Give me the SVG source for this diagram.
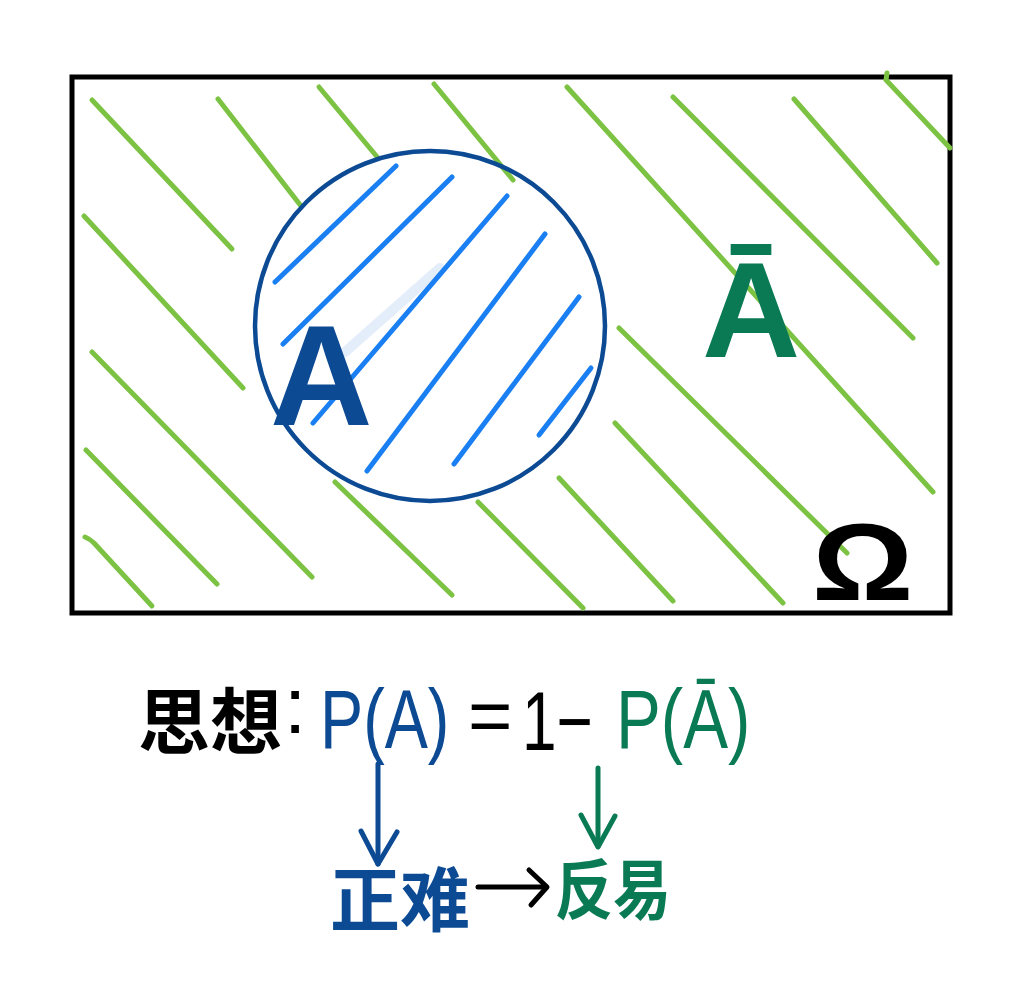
<svg xmlns="http://www.w3.org/2000/svg" width="1021" height="1000" viewBox="0 0 1021 1000">
<style>
.g{stroke:#7cc243;stroke-width:5;stroke-linecap:round;fill:none}
.b{stroke:#1a7ff2;stroke-width:5;stroke-linecap:round;fill:none}
.lat{font-family:"Liberation Sans",Arial,sans-serif}
.cjk{font-family:"Noto Sans CJK SC","Noto Sans CJK JP",sans-serif;font-weight:700}
.arr{stroke-width:5;stroke-linecap:round;stroke-linejoin:round;fill:none}
</style>
<rect width="1021" height="1000" fill="#ffffff"/>
<g id="omega-space">
<rect x="72" y="77" width="878" height="536" fill="none" stroke="#000" stroke-width="5"/>
<g id="hatch-green">
<line class="g" x1="92" y1="100" x2="232" y2="249"/>
<line class="g" x1="218" y1="99" x2="301" y2="206"/>
<line class="g" x1="319" y1="87" x2="378" y2="158"/>
<line class="g" x1="434" y1="84" x2="513" y2="180"/>
<line class="g" x1="84" y1="216" x2="243" y2="388"/>
<line class="g" x1="92" y1="352" x2="312" y2="577"/>
<line class="g" x1="86" y1="450" x2="217" y2="584"/>
<path class="g" d="M85,537 Q90,539 94,543 L152,606"/>
<line class="g" x1="335" y1="482" x2="452" y2="595"/>
<line class="g" x1="478" y1="502" x2="583" y2="608"/>
<line class="g" x1="559" y1="478" x2="673" y2="601"/>
<line class="g" x1="615" y1="423" x2="783" y2="603"/>
<line class="g" x1="619" y1="328" x2="847" y2="553"/>
<line class="g" x1="567" y1="87" x2="933" y2="492"/>
<line class="g" x1="673" y1="97" x2="913" y2="338"/>
<line class="g" x1="794" y1="99" x2="937" y2="263"/>
<path class="g" d="M887,73 L886,80 L950,148"/>
</g>
<g id="event-A">
<line x1="345" y1="352" x2="440" y2="268" stroke="#e4edfa" stroke-width="10" stroke-linecap="round"/>
<g id="hatch-blue">
<line class="b" x1="275" y1="282" x2="396" y2="166"/>
<line class="b" x1="283" y1="344" x2="452" y2="177"/>
<line class="b" x1="313" y1="423" x2="507" y2="196"/>
<line class="b" x1="367" y1="471" x2="545" y2="234"/>
<line class="b" x1="454" y1="464" x2="579" y2="297"/>
<line class="b" x1="539" y1="435" x2="591" y2="368"/>
</g>
<circle cx="430" cy="326" r="175" fill="none" stroke="#0c4a94" stroke-width="4.5"/>
<text class="lat" x="270" y="425" font-size="142" font-weight="700" fill="#0c4a94">A</text>
</g>
<text id="label-Abar" class="lat" x="702" y="357" font-size="136" font-weight="700" fill="#0a7a55">Ā</text>
<text id="label-omega" class="lat" transform="translate(812,600) scale(1.15,1)" font-size="110" font-weight="700" fill="#000">Ω</text>
</g>
<g id="formula">
<text id="idea" class="cjk" x="138" y="748" font-size="72" fill="#000">思想</text>
<text class="lat" x="284" y="733" font-size="80" fill="#000">:</text>
<text id="PA" class="lat" transform="translate(320,748) scale(0.77,1)" font-size="84" fill="#0c4a94">P(A)</text>
<text class="lat" x="468" y="742" font-size="76" fill="#000">=</text>
<text class="lat" transform="translate(522,750) scale(0.74,1)" font-size="84" fill="#000">1−</text>
<text id="PAbar" class="lat" transform="translate(616,748) scale(0.8,1)" font-size="84" fill="#0a7a55">P(Ā)</text>
</g>
<g id="zhengnan"><text class="cjk" x="330" y="926" font-size="70" fill="#0c4a94">正难</text></g>
<g id="fanyi"><text class="cjk" transform="translate(555,914) scale(0.88,1)" font-size="66" fill="#0a7a55">反易</text></g>
<g id="connectors">
<g stroke="#0c4a94" class="arr"><line x1="378" y1="764" x2="378" y2="864"/><polyline points="361,831 378,864 397,832"/></g>
<g stroke="#0a7a55" class="arr"><line x1="598" y1="768" x2="598" y2="846"/><polyline points="581,815 598,847 615,816"/></g>
<g stroke="#000" class="arr"><line x1="478" y1="887" x2="546" y2="887"/><polyline points="529,870 547,887 531,905"/></g>
</g>
</svg>
